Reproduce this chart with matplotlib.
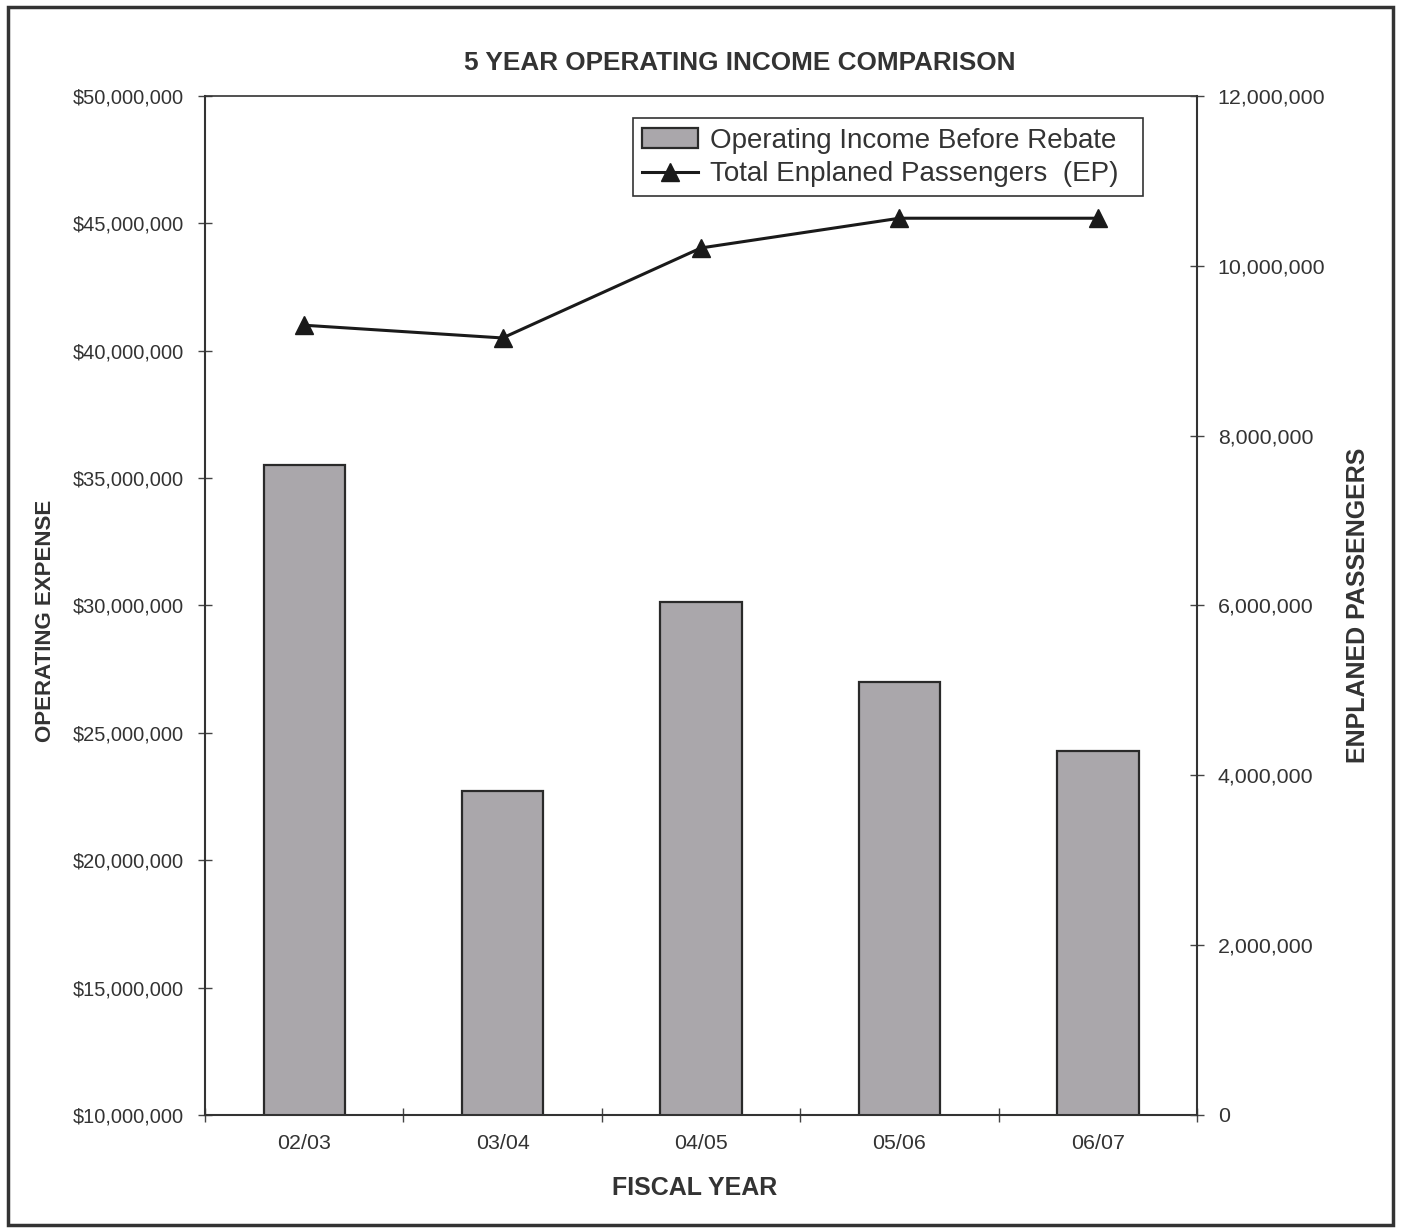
import matplotlib
matplotlib.use("Agg")
import matplotlib.pyplot as plt
from matplotlib.ticker import FuncFormatter, MultipleLocator, FixedLocator
from matplotlib.patches import Rectangle

plt.rcParams['font.family'] = ['Liberation Sans', 'DejaVu Sans']

years = ["02/03", "03/04", "04/05", "05/06", "06/07"]
operating_income = [35_500_000, 22_700_000, 30_150_000, 27_000_000, 24_300_000]
enplaned_passengers = [9_300_000, 9_150_000, 10_210_000, 10_560_000, 10_560_000]

fig = plt.figure(figsize=(14.03, 12.30), dpi=100)
fig.patch.set_facecolor('white')
fig.patches.append(Rectangle((0.006, 0.004), 0.987, 0.99, transform=fig.transFigure,
                             fill=False, edgecolor='#333333', linewidth=2.5))

ax = fig.add_axes([0.1461, 0.0935, 0.7071, 0.8285])
ax2 = ax.twinx()

x = list(range(len(years)))
ax.bar(x, operating_income, width=0.41, bottom=0, color='#aaa7ab',
       edgecolor='#2a2a2a', linewidth=1.6, zorder=2,
       label='Operating Income Before Rebate')
ax.set_ylim(10_000_000, 50_000_000)
ax.set_xlim(-0.5, len(years) - 0.5)
ax.yaxis.set_major_locator(MultipleLocator(5_000_000))
ax.yaxis.set_major_formatter(FuncFormatter(lambda v, p: f"${v:,.0f}"))

ln, = ax2.plot(x, enplaned_passengers, color='#1a1a1a', linewidth=2.2,
               marker='^', markersize=13, zorder=3,
               label='Total Enplaned Passengers  (EP)')
ax2.set_ylim(0, 12_000_000)
ax2.yaxis.set_major_locator(MultipleLocator(2_000_000))
ax2.yaxis.set_major_formatter(FuncFormatter(lambda v, p: f"{v:,.0f}"))

ax.set_xticks(x)
ax.set_xticklabels(years)
ax.xaxis.set_minor_locator(FixedLocator([i + 0.5 for i in range(-1, len(years))]))
ax.tick_params(axis='x', which='major', length=0, pad=14, labelsize=15.4, labelcolor='#333333')
ax.tick_params(axis='x', which='minor', direction='inout', length=10, width=1, color='#444444')
ax.tick_params(axis='y', direction='inout', length=10, width=1, labelsize=14.4,
               labelcolor='#333333', pad=10, color='#444444')
ax2.tick_params(axis='y', direction='inout', length=10, width=1, labelsize=15.4,
                labelcolor='#333333', pad=10, color='#444444')

for a in (ax, ax2):
    for side in ('top', 'right'):
        a.spines[side].set_visible(False)
ax2.spines['left'].set_visible(False)
ax2.spines['bottom'].set_visible(False)
ax2.spines['right'].set_visible(True)
for sp in (ax.spines['left'], ax.spines['bottom'], ax2.spines['right']):
    sp.set_color('#333333')
    sp.set_linewidth(1.5)
ax.spines['top'].set_visible(True)
ax.spines['top'].set_color('#333333')
ax.spines['top'].set_linewidth(1.2)

ax.set_xlabel('FISCAL YEAR', fontsize=18, fontweight='bold', color='#333333')
ax.xaxis.set_label_coords(0.494, -0.06)
ax.set_ylabel('OPERATING EXPENSE', fontsize=16, fontweight='bold', color='#333333')
ax.yaxis.set_label_coords(-0.150, 0.485)
ax2.set_ylabel('ENPLANED PASSENGERS', fontsize=18, fontweight='bold', color='#333333')
ax2.yaxis.set_label_coords(1.150, 0.5)

fig.text(0.527, 0.949, '5 YEAR OPERATING INCOME COMPARISON', ha='center', va='center',
         fontsize=18.8, fontweight='bold', color='#333333')

bars_handle = ax.containers[0]
leg = ax2.legend([bars_handle, ln], ['Operating Income Before Rebate', 'Total Enplaned Passengers  (EP)'],
                 loc='upper right', bbox_to_anchor=(0.4315, 0.878, 0.5141, 0.1), mode='expand',
                 fontsize=20,
                 frameon=True, fancybox=False, edgecolor='#333333', framealpha=1,
                 handlelength=2.0, handletextpad=0.45, borderpad=0.33, labelspacing=0.28,
                 borderaxespad=0)
leg.get_frame().set_linewidth(1.2)
for t in leg.get_texts():
    t.set_color('#333333')

fig.savefig('out.png', dpi=100)
